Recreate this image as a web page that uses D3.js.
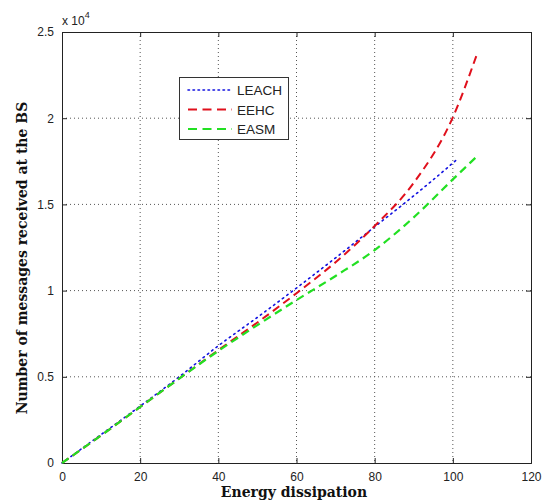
<!DOCTYPE html>
<html>
<head>
<meta charset="utf-8">
<script src="https://cdn.jsdelivr.net/npm/d3@7"></script>
<style>
  html, body { margin: 0; padding: 0; background: #fff; }
  svg { display: block; }
</style>
</head>
<body>
<svg id="chart" width="544" height="504"></svg>
<script>
// ---- data ----
const xTicks = [0, 20, 40, 60, 80, 100, 120];
const yTicks = [0, 5000, 10000, 15000, 20000, 25000];
const yTickLabels = ["0", "0.5", "1", "1.5", "2", "2.5"];

const seriesNames = ["LEACH", "EEHC", "EASM"];

const leachX = [0, 10, 20, 30, 40, 50, 60, 70, 80, 90, 100, 101];
const leachY = [0, 1650, 3300, 5000, 6800, 8450, 10150, 11900, 13700, 15500, 17400, 17600];

const eehcX = [0, 10, 20, 30, 40, 50, 60, 70, 80, 90, 100, 106];
const eehcY = [0, 1600, 3250, 4900, 6550, 8150, 9850, 11650, 13750, 16250, 20050, 23600];

const easmX = [0, 10, 20, 30, 40, 50, 60, 70, 80, 90, 100, 106];
const easmY = [0, 1600, 3250, 4900, 6500, 8000, 9450, 10850, 12350, 14250, 16450, 17750];

const xLabel = "Energy dissipation";
const yLabel = "Number of messages received at the BS";

// ---- layout ----
const svg = d3.select("#chart");
const L = 62, R = 531, T = 32, B = 463;

const x = d3.scaleLinear().domain([0, 120]).range([L, R]);
const y = d3.scaleLinear().domain([0, 25000]).range([B, T]);

const tickFont = "'Liberation Sans', Arial, sans-serif";
const labelFont = "'DejaVu Serif', 'Liberation Serif', serif";

// grid
const grid = svg.append("g");
grid.selectAll("line.gx").data(xTicks.slice(1, -1)).enter().append("line")
  .attr("x1", d => x(d)).attr("x2", d => x(d))
  .attr("y1", T).attr("y2", B)
  .attr("stroke", "#555").attr("stroke-width", 1)
  .attr("stroke-dasharray", "1,3");
grid.selectAll("line.gy").data(yTicks.slice(1, -1)).enter().append("line")
  .attr("x1", L).attr("x2", R)
  .attr("y1", d => y(d)).attr("y2", d => y(d))
  .attr("stroke", "#555").attr("stroke-width", 1)
  .attr("stroke-dasharray", "1,3");

// axes (ticks inward)
const xAxisB = d3.axisBottom(x).tickValues(xTicks).tickSize(-5).tickPadding(9).tickFormat(d3.format("d"));
const xAxisT = d3.axisTop(x).tickValues(xTicks).tickSize(-5).tickFormat("");
const yAxisL = d3.axisLeft(y).tickValues(yTicks).tickSize(-5).tickPadding(8)
  .tickFormat((d, i) => yTickLabels[i]);
const yAxisR = d3.axisRight(y).tickValues(yTicks).tickSize(-5).tickFormat("");

function styleAxis(g) {
  g.select(".domain").attr("stroke", "#222");
  g.selectAll(".tick line").attr("stroke", "#222");
  g.selectAll(".tick text").attr("fill", "#222")
    .style("font-family", tickFont).style("font-size", "12px");
}

svg.append("g").attr("transform", `translate(0,${B})`).call(xAxisB).call(styleAxis);
svg.append("g").attr("transform", `translate(0,${T})`).call(xAxisT).call(styleAxis);
svg.append("g").attr("transform", `translate(${L},0)`).call(yAxisL).call(styleAxis);
svg.append("g").attr("transform", `translate(${R},0)`).call(yAxisR).call(styleAxis);

// exponent label
const expo = svg.append("text")
  .attr("x", L).attr("y", 25)
  .style("font-family", tickFont).style("font-size", "12px").attr("fill", "#222");
expo.append("tspan").text("x 10");
expo.append("tspan").attr("dy", -7).style("font-size", "9px").text("4");

// lines
const line = d3.line().x(d => x(d[0])).y(d => y(d[1])).curve(d3.curveMonotoneX);
const series = [
  { name: seriesNames[0], xs: leachX, ys: leachY, color: "#1010e0", width: 1.6, dash: "1.5,4" },
  { name: seriesNames[1], xs: eehcX, ys: eehcY, color: "#e0101c", width: 2, dash: "8,5" },
  { name: seriesNames[2], xs: easmX, ys: easmY, color: "#22e022", width: 2.2, dash: "8,5" }
];
series.forEach(s => {
  const pts = s.xs.map((v, i) => [v, s.ys[i]]);
  svg.append("path").datum(pts)
    .attr("d", line)
    .attr("fill", "none")
    .attr("stroke", s.color)
    .attr("stroke-width", s.width)
    .attr("stroke-dasharray", s.dash)
    .attr("stroke-linecap", s.name === "LEACH" ? "round" : "butt");
});

// legend
const lg = svg.append("g");
lg.append("rect").attr("x", 179.5).attr("y", 77.5).attr("width", 109).attr("height", 62)
  .attr("fill", "#fff").attr("stroke", "#333").attr("stroke-width", 1);
series.forEach((s, i) => {
  const yy = 90 + i * 19.5;
  lg.append("line").attr("x1", 188).attr("x2", 232).attr("y1", yy).attr("y2", yy)
    .attr("stroke", s.color).attr("stroke-width", s.width)
    .attr("stroke-dasharray", s.name === "LEACH" ? "1.5,3.5" : "9,5.5")
    .attr("stroke-linecap", s.name === "LEACH" ? "round" : "butt");
  lg.append("text").attr("x", 237).attr("y", yy + 5)
    .style("font-family", tickFont).style("font-size", "13.5px").attr("fill", "#222")
    .text(s.name);
});

// axis titles
svg.append("text")
  .attr("x", 294).attr("y", 497)
  .attr("text-anchor", "middle")
  .style("font-family", labelFont).style("font-size", "14px").style("font-weight", "bold")
  .attr("fill", "#111")
  .text(xLabel);

svg.append("text")
  .attr("transform", "translate(27,258) rotate(-90)")
  .attr("text-anchor", "middle")
  .style("font-family", labelFont).style("font-size", "14px").style("font-weight", "bold")
  .attr("fill", "#111")
  .text(yLabel);
</script>
</body>
</html>
